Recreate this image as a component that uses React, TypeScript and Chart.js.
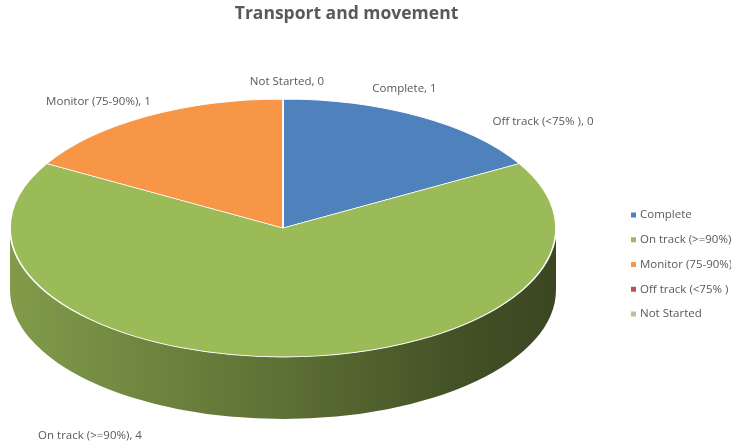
import React, { useEffect, useRef } from "react";
import { Chart, registerables } from "chart.js";

Chart.register(...registerables);

const TITLE = "Transport and movement";
const categories = ["Complete", "On track (>=90%)", "Monitor (75-90%)", "Off track (<75% )", "Not Started"];
const values = [1, 4, 1, 0, 0];
const colors = ["#4F81BD", "#9BBB59", "#F79646", "#C0504D", "#C4BD97"];

const FONT = "'Open Sans', 'Noto Sans', sans-serif";

// geometry of the flattened (3D-looking) pie on screen
const GEO = { cx: 283, cy: 228, rx: 273, ry: 129, depth: 62 };
// label offsets (dx, dy) relative to each slice's mid-angle rim point
const LABEL_OFFSETS: [number, number][] = [
  [-15, -28],
  [-193, 79],
  [-48, -15],
  [260, 23],
  [4, -17],
];

function hexToRgb(h: string) {
  const n = parseInt(h.slice(1), 16);
  return [(n >> 16) & 255, (n >> 8) & 255, n & 255];
}
function shade(h: string, f: number) {
  const [r, g, b] = hexToRgb(h);
  return `rgb(${Math.round(r * f)},${Math.round(g * f)},${Math.round(b * f)})`;
}

function getArcs(chart: any) {
  const meta = chart.getDatasetMeta(0);
  return meta.data.map((a: any) => a.getProps(["x", "y", "startAngle", "endAngle", "outerRadius"], true));
}

const pie3d = {
  id: "pie3d",
  beforeDatasetsDraw(chart: any) {
    const ctx = chart.ctx;
    const arcs = getArcs(chart);
    if (!arcs.length) return;
    const { x, y, outerRadius: R } = arcs[0];
    const sx = GEO.rx / R;
    const sy = GEO.ry / R;
    ctx.save();
    ctx.translate(GEO.cx, GEO.cy);
    ctx.scale(sx, sy);
    ctx.translate(-x, -y);
    const d = GEO.depth / sy;
    arcs.forEach((a: any, i: number) => {
      if (values[i] <= 0) return;
      const s = a.startAngle;
      const e = a.endAngle;
      for (const shift of [-2 * Math.PI, 0, 2 * Math.PI]) {
        const lo = Math.max(s + shift, 0);
        const hi = Math.min(e + shift, Math.PI);
        if (hi <= lo) continue;
        const grad = ctx.createLinearGradient(x - R, 0, x + R, 0);
        grad.addColorStop(0, shade(colors[i], 0.83));
        grad.addColorStop(0.5, shade(colors[i], 0.6));
        grad.addColorStop(0.85, shade(colors[i], 0.42));
        grad.addColorStop(1, shade(colors[i], 0.38));
        ctx.beginPath();
        ctx.arc(x, y, R, lo, hi, false);
        ctx.arc(x, y + d, R, hi, lo, true);
        ctx.closePath();
        ctx.fillStyle = grad;
        ctx.fill();
      }
    });
  },
  afterDatasetsDraw(chart: any) {
    const arcs = getArcs(chart);
    if (!arcs.length) return;
    chart.ctx.restore();
  },
  afterDraw(chart: any) {
    const ctx = chart.ctx;
    const arcs = getArcs(chart);
    ctx.save();
    ctx.font = `11.5px ${FONT}`;
    ctx.fillStyle = "#595959";
    ctx.textAlign = "center";
    ctx.textBaseline = "middle";
    arcs.forEach((a: any, i: number) => {
      const mid = (a.startAngle + a.endAngle) / 2;
      const px = GEO.cx + GEO.rx * Math.cos(mid);
      const py = GEO.cy + GEO.ry * Math.sin(mid);
      const [dx, dy] = LABEL_OFFSETS[i];
      ctx.fillText(`${categories[i]}, ${values[i]}`, px + dx, py + dy);
    });
    // legend
    ctx.font = `11.5px ${FONT}`;
    ctx.textAlign = "left";
    const lx = 631;
    const ly0 = 215;
    const step = 24.75;
    categories.forEach((c, i) => {
      const yy = ly0 + i * step;
      ctx.fillStyle = colors[i];
      ctx.fillRect(lx, yy - 2.5, 5, 5);
      ctx.fillStyle = "#595959";
      ctx.fillText(c, lx + 9, yy);
    });
    ctx.restore();
  },
};

export default function App() {
  const ref = useRef<HTMLCanvasElement | null>(null);
  useEffect(() => {
    if (!ref.current) return;
    const chart = new Chart(ref.current, {
      type: "pie",
      data: {
        labels: categories,
        datasets: [
          {
            data: values,
            backgroundColor: colors,
            borderColor: "#ffffff",
            borderWidth: 1.3,
            clip: false,
          } as any,
        ],
      },
      options: {
        responsive: false,
        animation: false,
        layout: { padding: { right: 38 } },
        plugins: {
          legend: { display: false },
          tooltip: { enabled: false },
          title: {
            display: true,
            text: TITLE,
            color: "#595959",
            font: { family: FONT, size: 17.5, weight: "bold" },
            padding: { top: 4, bottom: 10 },
          },
        },
      },
      plugins: [pie3d],
    });
    return () => chart.destroy();
  }, []);
  return (
    <div style={{ position: "fixed", left: 0, top: 0, width: 731, height: 448, background: "#fff" }}>
      <canvas ref={ref} width={731} height={448} style={{ display: "block" }} />
    </div>
  );
}
